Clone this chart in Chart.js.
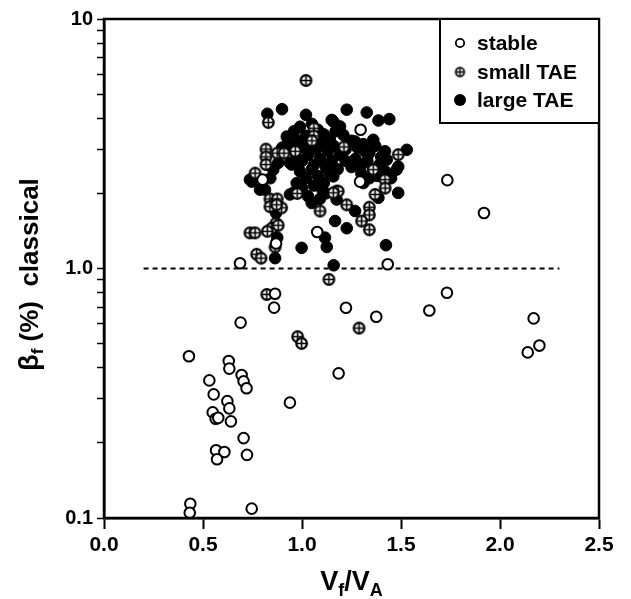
<!DOCTYPE html>
<html>
<head>
<meta charset="utf-8">
<script src="https://cdn.jsdelivr.net/npm/chart.js@4/dist/chart.umd.min.js"></script>
<style>
  html, body { margin: 0; padding: 0; background: #fff; }
  #wrap { width: 631px; height: 599px; position: relative; }
</style>
</head>
<body>
<div id="wrap"><canvas id="c"></canvas></div>
<script>
// ── Data ─────────────────────────────────────────────────────────────────────

const stableX = [0.690, 0.429, 0.630, 0.633, 0.532, 0.695, 0.705, 0.720, 0.554, 0.623,
                 0.633, 0.549, 0.564, 0.577, 0.641, 0.939, 0.705, 0.566, 0.608, 0.722,
                 0.571, 0.436, 0.433, 0.746, 0.864, 0.859, 0.687, 1.433, 1.222, 1.375,
                 1.185, 1.643, 1.732, 2.170, 2.199, 2.140, 1.734, 1.919, 1.296, 1.293,
                 0.801, 1.077, 0.869];
const stableY = [0.607, 0.445, 0.426, 0.397, 0.356, 0.374, 0.353, 0.331, 0.313, 0.294,
                 0.275, 0.265, 0.250, 0.252, 0.244, 0.290, 0.209, 0.187, 0.184, 0.179,
                 0.172, 0.114, 0.105, 0.109, 0.792, 0.697, 1.05, 1.04, 0.696, 0.641,
                 0.380, 0.679, 0.800, 0.631, 0.491, 0.461, 2.26, 1.67, 3.60, 2.23,
                 2.27, 1.40, 1.26];

const smallX = [0.822, 0.978, 0.998, 1.136, 1.288, 1.020, 0.830, 0.818, 0.818, 0.875,
                0.909, 0.966, 0.818, 0.763, 1.212, 1.486, 1.175, 0.838, 0.875, 0.838,
                0.897, 0.869, 0.847, 0.880, 0.737, 0.763, 0.825, 0.864, 0.771, 0.793,
                0.976, 1.091, 1.183, 1.226, 1.340, 1.340, 1.301, 1.340, 1.419, 1.420,
                1.369, 1.060, 1.060, 1.050, 1.158, 1.360, 0.872];
const smallY = [0.787, 0.533, 0.501, 0.904, 0.577, 5.67, 3.85, 3.01, 2.80, 2.90,
                2.90, 2.95, 2.61, 2.41, 3.07, 2.86, 2.04, 1.90, 1.90, 1.77,
                1.75, 1.52, 1.45, 1.49, 1.39, 1.39, 1.41, 1.22, 1.14, 1.10,
                2.00, 1.70, 2.04, 1.80, 1.76, 1.64, 1.55, 1.43, 2.27, 2.10,
                1.98, 3.65, 3.40, 3.25, 2.01, 2.49, 1.80];

const largeX = [1.160, 0.899, 0.825, 1.020, 1.150, 0.923, 0.948, 0.855, 0.746, 0.813,
                1.226, 1.327, 1.386, 1.441, 1.158, 1.192, 1.209, 1.268, 1.360, 1.318,
                1.529, 1.486, 1.419, 1.428, 1.158, 1.310, 0.737, 0.788, 0.869, 0.875,
                0.864, 0.998, 1.116, 1.125, 0.939, 0.973, 1.049, 1.104, 1.167, 1.175,
                1.268, 1.226, 1.424, 1.486, 1.386, 1.478, 1.150, 0.939, 0.956,
                0.96, 0.99, 1.02, 1.05, 1.08, 1.11, 1.14, 1.17, 0.95, 0.98,
                1.01, 1.04, 1.07, 1.10, 1.13, 1.16, 1.19, 0.97, 1.00, 1.03,
                1.06, 1.09, 1.12, 1.15, 1.18, 0.99, 1.02, 1.05, 1.08, 1.11,
                1.14, 1.00, 1.03, 1.06, 1.09, 1.12,
                1.28, 1.31, 1.34, 1.37, 1.40, 1.27, 1.30, 1.33, 1.36, 1.39,
                1.42, 1.30, 1.34, 1.38, 1.45, 1.25, 1.22, 1.22, 1.25,
                0.93, 0.90, 0.88, 0.84];
const largeY = [1.03, 4.35, 4.17, 4.13, 3.94, 3.38, 2.61, 2.49, 2.23, 2.07,
                4.33, 4.22, 3.92, 3.97, 3.88, 3.71, 3.43, 3.23, 3.28, 2.95,
                2.99, 2.56, 2.95, 2.73, 2.34, 2.20, 2.27, 2.07, 1.67, 1.33,
                1.10, 1.21, 1.33, 1.22, 1.98, 2.20, 1.83, 2.06, 1.55, 1.89,
                1.70, 1.45, 1.24, 2.01, 1.92, 2.49, 2.49, 2.65, 2.01,
                3.55, 3.70, 3.40, 3.80, 3.60, 3.45, 3.30, 3.55, 3.10, 3.25,
                3.05, 3.20, 3.00, 3.15, 2.95, 3.10, 2.85, 2.80, 2.70, 2.85,
                2.60, 2.75, 2.55, 2.70, 2.50, 2.45, 2.30, 2.50, 2.35, 2.20,
                2.40, 2.10, 1.95, 2.15, 1.90, 2.00,
                3.05, 3.15, 2.90, 3.10, 2.80, 2.75, 2.60, 2.70, 2.50, 2.60,
                2.45, 2.40, 2.30, 2.35, 2.30, 2.55, 2.70, 3.00, 3.25,
                3.20, 3.05, 2.65, 2.30];

// classical threshold line
const refX = [0.2, 2.3];
const refY = [1.0, 1.0];

const xTicks = [0, 0.5, 1.0, 1.5, 2.0, 2.5];
const yTicks = [0.1, 0.2, 0.3, 0.4, 0.5, 0.6, 0.7, 0.8, 0.9,
                1, 2, 3, 4, 5, 6, 7, 8, 9, 10];
const yLabels = { 0.1: '0.1', 1: '1.0', 10: '10' };

const FONT = "'Liberation Sans', Arial, Helvetica, sans-serif";

// ── Helpers ──────────────────────────────────────────────────────────────────

const pts = (xs, ys) => xs.map((x, i) => ({ x, y: ys[i] }));

// circle with a plus inside, for the "small TAE" markers
function crossCircle(r, lw, pw) {
  const s = Math.ceil(2 * r + lw + 2);
  const cv = document.createElement('canvas');
  cv.width = s; cv.height = s;
  const c = cv.getContext('2d');
  const m = s / 2;
  c.beginPath();
  c.arc(m, m, r, 0, Math.PI * 2);
  c.fillStyle = '#fff';
  c.fill();
  c.lineWidth = lw;
  c.strokeStyle = '#000';
  c.stroke();
  c.lineWidth = pw;
  c.beginPath();
  c.moveTo(m - r, m); c.lineTo(m + r, m);
  c.moveTo(m, m - r); c.lineTo(m, m + r);
  c.stroke();
  return cv;
}

const crossMark = crossCircle(5.3, 2.2, 1.6);
const crossMarkSmall = crossCircle(4.3, 1.7, 1.3);

// ── Plugins: frame, legend box, axis titles ─────────────────────────────────

const frame = {
  id: 'frame',
  afterDraw(chart) {
    const { ctx, chartArea: a } = chart;
    ctx.save();
    ctx.lineWidth = 2.5;
    ctx.strokeStyle = '#000';
    ctx.strokeRect(a.left, a.top, a.right - a.left, a.bottom - a.top);
    ctx.restore();
  }
};

const legendBox = {
  id: 'legendBox',
  afterDraw(chart) {
    const { ctx, chartArea: a } = chart;
    const w = 159, h = 104;
    const left = a.right - w, top = a.top;
    ctx.save();
    ctx.fillStyle = '#fff';
    ctx.fillRect(left, top, w, h);
    ctx.lineWidth = 2;
    ctx.strokeStyle = '#000';
    ctx.strokeRect(left, top, w, h);
    ctx.font = 'bold 21px ' + FONT;
    ctx.textBaseline = 'middle';
    ctx.fillStyle = '#000';
    const rows = [24, 53, 81];
    chart.data.datasets.slice(0, 3).forEach((ds, i) => {
      const y = top + rows[i], mx = left + 20;
      if (i === 0) {
        ctx.beginPath(); ctx.arc(mx, y, 4.2, 0, Math.PI * 2);
        ctx.lineWidth = 1.8; ctx.stroke();
      } else if (i === 1) {
        ctx.drawImage(crossMarkSmall, mx - crossMarkSmall.width / 2, y - crossMarkSmall.height / 2);
      } else {
        ctx.beginPath(); ctx.arc(mx, y, 6, 0, Math.PI * 2); ctx.fill();
      }
      ctx.fillText(ds.label, left + 37, y + 1);
    });
    ctx.restore();
  }
};

// draws a run of [text, size, dy] pieces, left to right from x, baseline y
function drawRuns(ctx, runs, x, y) {
  runs.forEach(([t, size, dy]) => {
    ctx.font = 'bold ' + size + 'px ' + FONT;
    ctx.fillText(t, x, y + dy);
    x += ctx.measureText(t).width;
  });
}
function runsWidth(ctx, runs) {
  return runs.reduce((s, [t, size]) => {
    ctx.font = 'bold ' + size + 'px ' + FONT;
    return s + ctx.measureText(t).width;
  }, 0);
}

const axisTitles = {
  id: 'axisTitles',
  afterDraw(chart) {
    const { ctx, chartArea: a } = chart;
    ctx.save();
    ctx.fillStyle = '#000';
    ctx.textBaseline = 'alphabetic';
    ctx.textAlign = 'left';

    const xr = [['V', 27, 0], ['f', 18, 6], ['/', 27, 0], ['V', 27, 0], ['A', 18, 6]];
    const xw = runsWidth(ctx, xr);
    drawRuns(ctx, xr, (a.left + a.right) / 2 - xw / 2, 590);

    const yr = [['\u03B2', 27, 0], ['f', 17, 5], [' (%)  classical', 26, 0]];
    const yw = runsWidth(ctx, yr);
    ctx.translate(38, (a.top + a.bottom) / 2 + 6);
    ctx.rotate(-Math.PI / 2);
    drawRuns(ctx, yr, -yw / 2, 0);
    ctx.restore();
  }
};

// ── Chart ────────────────────────────────────────────────────────────────────

new Chart(document.getElementById('c'), {
  type: 'scatter',
  data: {
    datasets: [
      { label: 'stable', data: pts(stableX, stableY),
        pointStyle: 'circle', pointRadius: 5.3, backgroundColor: '#fff',
        borderColor: '#000', borderWidth: 2 },
      { label: 'small TAE', data: pts(smallX, smallY),
        pointStyle: crossMark, pointRadius: 5 },
      { label: 'large TAE', data: pts(largeX, largeY),
        pointStyle: 'circle', pointRadius: 5.8, backgroundColor: '#000',
        borderColor: '#000', borderWidth: 1 },
      { type: 'line', label: 'ref', data: pts(refX, refY),
        borderColor: '#000', borderWidth: 1.8, borderDash: [5, 4],
        pointRadius: 0, fill: false },
    ]
  },
  options: {
    responsive: true,
    maintainAspectRatio: false,
    animation: false,
    events: [],
    layout: { padding: { top: 19, right: 32, left: 0, bottom: 0 } },
    plugins: { legend: { display: false }, tooltip: { enabled: false } },
    scales: {
      x: {
        type: 'linear', min: 0, max: 2.5,
        afterBuildTicks: s => { s.ticks = xTicks.map(v => ({ value: v })); },
        afterFit: s => { s.height = 81; },
        border: { display: true, color: '#000', width: 2.5 },
        grid: { drawOnChartArea: false, color: '#000', tickLength: 11, tickWidth: 2 },
        ticks: {
          color: '#000', padding: 4, maxRotation: 0,
          font: { family: FONT, size: 21, weight: 'bold' },
          callback: v => v.toFixed(1),
        },
      },
      y: {
        type: 'logarithmic', min: 0.1, max: 10,
        afterBuildTicks: s => { s.ticks = yTicks.map(v => ({ value: v })); },
        afterFit: s => { s.width = 104; },
        border: { display: true, color: '#000', width: 2.5 },
        grid: { drawOnChartArea: false, color: '#000', tickLength: 7, tickWidth: 1.5 },
        ticks: {
          color: '#000', padding: 4, autoSkip: false,
          font: { family: FONT, size: 20, weight: 'bold' },
          callback: v => yLabels[v] || '',
        },
      },
    },
  },
  plugins: [frame, legendBox, axisTitles],
});
</script>
</body>
</html>
